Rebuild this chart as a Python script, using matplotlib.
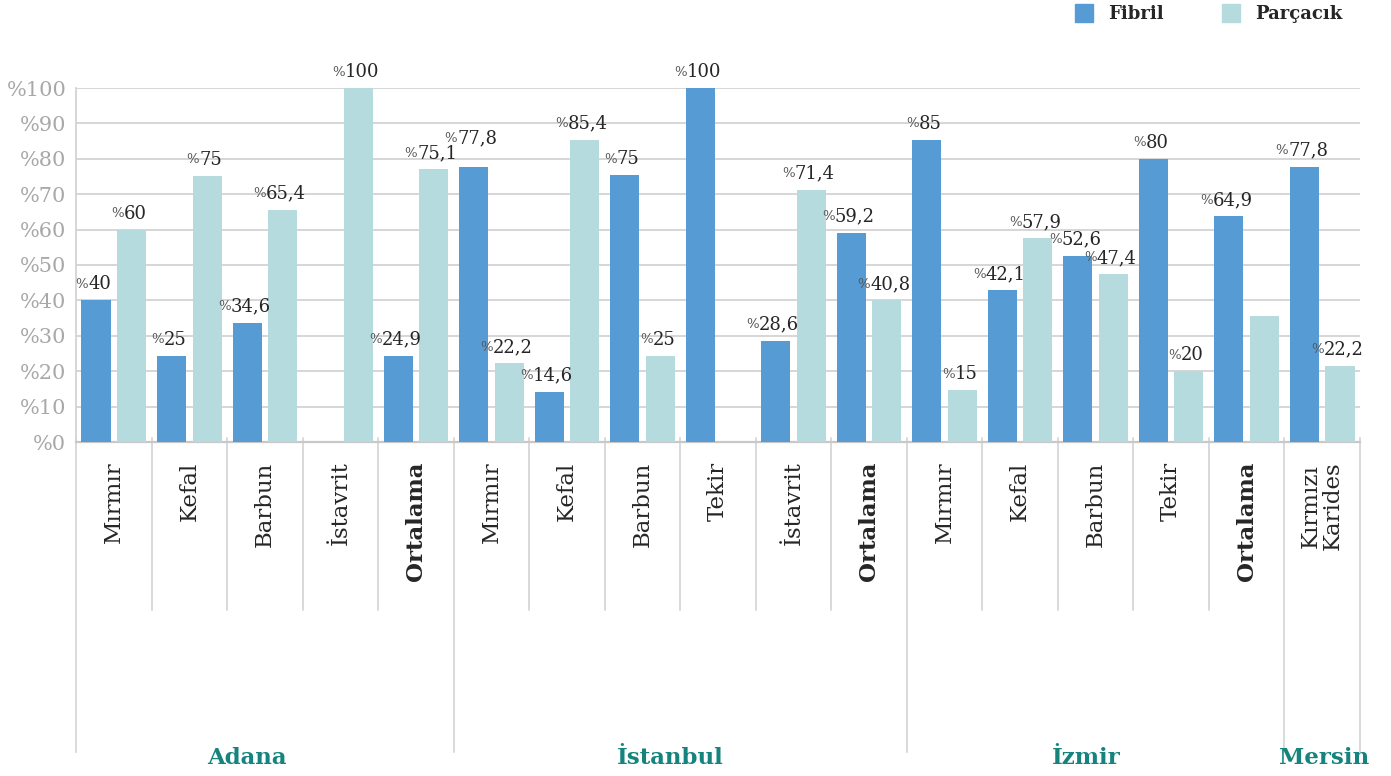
import numpy as np
import matplotlib
matplotlib.use("Agg")
import matplotlib.pyplot as plt
from matplotlib.offsetbox import TextArea, HPacker, AnnotationBbox
from matplotlib.patches import Rectangle
import matplotlib.transforms as mtransforms

plt.rcParams['font.family'] = ['DejaVu Serif']

# --- data ---
categories = ['Mırmır', 'Kefal', 'Barbun', 'İstavrit', 'Ortalama',
              'Mırmır', 'Kefal', 'Barbun', 'Tekir', 'İstavrit', 'Ortalama',
              'Mırmır', 'Kefal', 'Barbun', 'Tekir', 'Ortalama',
              'Kırmızı\nKarides']
groups = ['Adana', 'İstanbul', 'İzmir', 'Mersin']
group_sizes = [5, 6, 5, 1]

fibril = [40, 24.4, 33.7, 0, 24.4, 77.8, 14.2, 75.3, 100, 28.6, 59.1,
          85.4, 42.9, 52.6, 80, 63.8, 77.8]
parcacik = [60, 75.2, 65.6, 100, 77.1, 22.2, 85.4, 24.4, 0, 71.3, 40.1,
            14.6, 57.5, 47.5, 20, 35.6, 21.6]
fibril_labels = ['40', '25', '34,6', '', '24,9', '77,8', '14,6', '75', '100',
                 '28,6', '59,2', '85', '42,1', '52,6', '80', '64,9', '77,8']
parcacik_labels = ['60', '75', '65,4', '100', '75,1', '22,2', '85,4', '25', '',
                   '71,4', '40,8', '15', '57,9', '47,4', '20', '', '22,2']

c_fib = '#579bd5'
c_par = '#b5dbde'
c_grid = '#d3d3d3'
c_txt = '#262626'
c_group = '#16847e'

fig = plt.figure(figsize=(13.91, 7.76), dpi=100)
ax = fig.add_axes([76/1391, 1-442/776, (1360-76)/1391, (442-88)/776])

n = len(categories)
x = np.arange(n)
w = 0.385
off = 0.235

ax.bar(x - off, fibril, w, color=c_fib, zorder=3)
ax.bar(x + off, parcacik, w, color=c_par, zorder=3)

ax.set_xlim(-0.5, n - 0.5)
ax.set_ylim(0, 100)
ax.set_yticks(np.arange(0, 101, 10))
ax.set_yticklabels(['%' + str(v) for v in range(0, 101, 10)],
                   fontsize=15, color='#a8a8a8')
ax.tick_params(axis='y', length=0, pad=7)
ax.set_xticks([])
ax.yaxis.grid(True, color=c_grid, lw=1.3, zorder=0)
for s in ['top', 'right']:
    ax.spines[s].set_visible(False)
ax.spines['left'].set_color(c_grid)
ax.spines['left'].set_linewidth(1.3)
ax.spines['bottom'].set_color('#c8c8c8')
ax.spines['bottom'].set_linewidth(1.6)

# value labels: small % + number
bump = {('f', 5): 12}
def add_label(xc, h, txt, key):
    if txt == '':
        return
    p = TextArea('%', textprops=dict(size=9.5, color='#555555'))
    t = TextArea(txt, textprops=dict(size=13, color=c_txt))
    box = HPacker(children=[p, t], align='center', pad=0, sep=0)
    dy = 5 + bump.get(key, 0) * 0.72
    ab = AnnotationBbox(box, (xc, h), xybox=(-2, dy), boxcoords='offset points',
                        box_alignment=(0.5, 0), frameon=False,
                        annotation_clip=False, zorder=5)
    ax.add_artist(ab)

for i in range(n):
    add_label(x[i] - off, fibril[i], fibril_labels[i], ('f', i))
    add_label(x[i] + off, parcacik[i], parcacik_labels[i], ('p', i))

# category labels and separators below the axis
tr = mtransforms.blended_transform_factory(ax.transData, ax.transAxes)
for i, c in enumerate(categories):
    bold = c == 'Ortalama'
    ax.text(i, -0.055, c, transform=tr, rotation=90, ha='center', va='top',
            fontsize=16.5, color=c_txt, fontweight='bold' if bold else 'normal',
            linespacing=1.0)

bounds = np.cumsum([0] + group_sizes) - 0.5
for b in np.arange(-0.5, n, 1.0):
    long_line = np.any(np.isclose(bounds, b))
    y1 = -0.875 if long_line else -0.475
    ax.plot([b, b], [0.01, y1], transform=tr, color='#cfcfcf', lw=1.1,
            clip_on=False, zorder=1)

group_nudge = [-0.24, -0.13, -0.12, 0.03]
for g, lo, hi, d in zip(groups, bounds[:-1], bounds[1:], group_nudge):
    ax.text((lo + hi) / 2 + d, -0.893, g, transform=tr, ha='center', va='center',
            fontsize=16.5, fontweight='bold', color=c_group)

# legend
for xs, lab, col in [(1075, 'Fibril', c_fib), (1222, 'Parçacık', c_par)]:
    fig.add_artist(Rectangle((xs/1391, 1-22/776), 18/1391, 18/776,
                             transform=fig.transFigure, color=col))
    fig.text((xs + 33)/1391, 1-14/776, lab, fontsize=13, fontweight='bold',
             color=c_txt, va='center', ha='left')

fig.savefig('out.png', dpi=100)
